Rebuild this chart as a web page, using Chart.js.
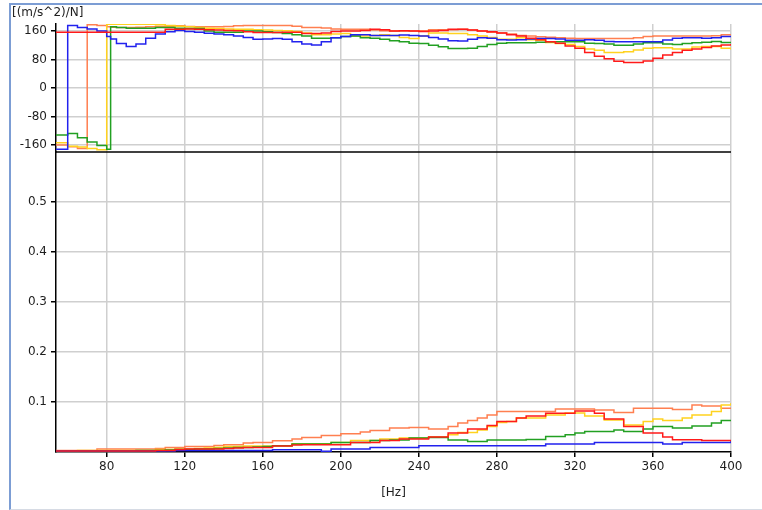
<!DOCTYPE html>
<html>
<head>
    <script src="https://cdn.jsdelivr.net/npm/chart.js@4.4.1/dist/chart.umd.min.js"></script>
    <style>
        body { margin: 0; background: #fff; overflow: hidden; }
        #frame {
            position: absolute; left: 9px; top: 3px; width: 780px; height: 504px;
            border-left: 2px solid #7c9dd4; border-top: 2px solid #7c9dd4; border-bottom: 1px solid #d6dbe4;
        }
        #grafico { position: absolute; left: 0; top: 0; }
    </style>
</head>
<body>
    <div id="frame"></div>
    <canvas id="grafico" width="762" height="510"></canvas>

    <script>
        // frequency points [Hz]
        const freq = [54, 60, 65, 70, 75, 80, 82, 85, 90, 95,
            100, 105, 110, 115, 120, 125, 130, 135, 140, 145,
            150, 155, 160, 165, 170, 175, 180, 185, 190, 195,
            200, 205, 210, 215, 220, 225, 230, 235, 240, 245,
            250, 255, 260, 265, 270, 275, 280, 285, 290, 295,
            300, 305, 310, 315, 320, 325, 330, 335, 340, 345,
            350, 355, 360, 365, 370, 375, 380, 385, 390, 395,
            400];

        // phase [deg]
        const phaseBlue = [-172, 176, 170, 166, 160, 145, 138, 125, 117, 124,
            140, 152, 158, 162, 159, 157, 154, 152, 150, 146,
            142, 137, 138, 139, 137, 130, 124, 121, 130, 141,
            145, 150, 150, 148, 148, 148, 149, 148, 146, 142,
            138, 133, 132, 137, 141, 140, 136, 135, 136, 138,
            139, 139, 138, 134, 134, 136, 134, 131, 130, 130,
            130, 130, 130, 135, 140, 141, 141, 140, 141, 145,
            145];
        const phaseOrange = [-160, -165, -170, 178, 176, 172, 171, 170, 170, 171,
            172, 173, 174, 175, 173, 172, 172, 172, 173, 175,
            176, 176, 176, 176, 176, 174, 170, 170, 169, 166,
            165, 165, 165, 163, 161, 160, 160, 160, 161, 164,
            164, 164, 165, 163, 160, 157, 155, 152, 148, 146,
            144, 143, 141, 140, 139, 139, 139, 139, 139, 139,
            141, 145, 146, 146, 146, 146, 146, 146, 147, 150,
            150];
        const phaseRed = [157, 157, 157, 157, 157, 157, 157, 157, 157, 157,
            157, 157, 165, 165, 166, 165, 164, 163, 162, 161,
            158, 156, 156, 156, 157, 157, 153, 153, 155, 159,
            160, 160, 162, 165, 164, 160, 161, 160, 159, 160,
            162, 165, 165, 163, 160, 158, 155, 150, 146, 140,
            136, 130, 126, 118, 112, 100, 89, 82, 75, 72,
            72, 76, 84, 93, 100, 106, 110, 114, 118, 121,
            124];
        const phaseGreen = [-132, -128, -140, -152, -162, -172, 172, 170, 168, 168,
            168, 170, 170, 168, 167, 167, 160, 157, 157, 157,
            160, 160, 158, 156, 153, 150, 146, 140, 140, 141,
            145, 146, 141, 140, 137, 133, 130, 126, 125, 120,
            116, 111, 111, 112, 117, 122, 126, 127, 127, 127,
            129, 130, 130, 130, 130, 126, 125, 124, 120, 120,
            124, 127, 127, 124, 122, 125, 127, 129, 131, 128,
            127];
        const phaseYellow = [-154, -164, -166, -170, -174, 179, 179, 179, 179, 179,
            179, 178, 176, 174, 172, 170, 168, 167, 166, 165,
            165, 164, 163, 162, 161, 159, 155, 150, 150, 152,
            153, 146, 146, 148, 150, 148, 142, 139, 146, 155,
            155, 153, 153, 150, 146, 142, 137, 137, 141, 136,
            134, 128, 125, 122, 117, 110, 106, 100, 100, 102,
            107, 112, 113, 113, 110, 110, 115, 117, 117, 112,
            108];

        // magnitude [(m/s^2)/N]
        const magBlue = [0.002, 0.002, 0.002, 0.002, 0.002, 0.002, 0.002, 0.002, 0.002, 0.002,
            0.002, 0.002, 0.002, 0.003, 0.003, 0.003, 0.003, 0.003, 0.003, 0.003,
            0.003, 0.003, 0.003, 0.0046, 0.0046, 0.0046, 0.0046, 0.0046, 0.0013, 0.006,
            0.006, 0.006, 0.006, 0.009, 0.009, 0.009, 0.009, 0.009, 0.0125, 0.0125,
            0.0125, 0.0125, 0.0125, 0.0125, 0.0125, 0.0125, 0.0125, 0.0125, 0.0125, 0.0125,
            0.0125, 0.016, 0.016, 0.016, 0.016, 0.016, 0.019, 0.019, 0.019, 0.019,
            0.019, 0.019, 0.019, 0.016, 0.016, 0.019, 0.019, 0.019, 0.019, 0.019,
            0.023];
        const magOrange = [0.003, 0.003, 0.003, 0.003, 0.006, 0.006, 0.006, 0.006, 0.006, 0.006,
            0.006, 0.007, 0.009, 0.009, 0.011, 0.011, 0.011, 0.013, 0.0145, 0.0145,
            0.018, 0.019, 0.019, 0.0225, 0.0225, 0.026, 0.029, 0.029, 0.033, 0.033,
            0.0365, 0.0365, 0.04, 0.043, 0.043, 0.048, 0.048, 0.049, 0.049, 0.046,
            0.046, 0.051, 0.058, 0.063, 0.068, 0.074, 0.081, 0.081, 0.081, 0.081,
            0.081, 0.081, 0.086, 0.086, 0.086, 0.086, 0.084, 0.084, 0.079, 0.079,
            0.0875, 0.0875, 0.0875, 0.0875, 0.085, 0.085, 0.094, 0.092, 0.092, 0.0875,
            0.0875];
        const magRed = [0.002, 0.002, 0.002, 0.002, 0.002, 0.002, 0.002, 0.002, 0.002, 0.002,
            0.002, 0.003, 0.003, 0.005, 0.006, 0.006, 0.006, 0.006, 0.007, 0.008,
            0.009, 0.009, 0.009, 0.012, 0.012, 0.014, 0.0145, 0.0145, 0.0145, 0.0145,
            0.0145, 0.019, 0.019, 0.019, 0.023, 0.023, 0.026, 0.026, 0.026, 0.03,
            0.03, 0.038, 0.038, 0.046, 0.046, 0.053, 0.061, 0.061, 0.068, 0.072,
            0.072, 0.0775, 0.0775, 0.0775, 0.082, 0.082, 0.0775, 0.066, 0.066, 0.051,
            0.051, 0.038, 0.038, 0.03, 0.0245, 0.0245, 0.0245, 0.023, 0.023, 0.023,
            0.023];
        const magGreen = [0.002, 0.002, 0.002, 0.002, 0.002, 0.002, 0.002, 0.002, 0.002, 0.003,
            0.003, 0.003, 0.004, 0.005, 0.005, 0.006, 0.006, 0.007, 0.008, 0.009,
            0.009, 0.01, 0.011, 0.0125, 0.0125, 0.016, 0.016, 0.016, 0.016, 0.019,
            0.019, 0.019, 0.019, 0.023, 0.023, 0.024, 0.024, 0.028, 0.028, 0.029,
            0.029, 0.024, 0.024, 0.021, 0.021, 0.024, 0.024, 0.024, 0.024, 0.025,
            0.025, 0.031, 0.031, 0.0345, 0.038, 0.041, 0.041, 0.041, 0.044, 0.041,
            0.041, 0.046, 0.051, 0.051, 0.048, 0.048, 0.052, 0.052, 0.058, 0.063,
            0.063];
        const magYellow = [0.002, 0.002, 0.003, 0.003, 0.003, 0.003, 0.003, 0.003, 0.003, 0.003,
            0.003, 0.005, 0.005, 0.006, 0.006, 0.007, 0.008, 0.009, 0.011, 0.011,
            0.012, 0.012, 0.012, 0.0125, 0.0125, 0.0165, 0.0165, 0.0165, 0.0165, 0.019,
            0.019, 0.023, 0.023, 0.023, 0.026, 0.026, 0.028, 0.028, 0.028, 0.03,
            0.03, 0.0345, 0.039, 0.039, 0.044, 0.051, 0.059, 0.061, 0.068, 0.068,
            0.068, 0.074, 0.074, 0.078, 0.078, 0.072, 0.072, 0.064, 0.064, 0.054,
            0.054, 0.061, 0.066, 0.063, 0.063, 0.068, 0.074, 0.074, 0.081, 0.094,
            0.098];

        const hzTicks = [80, 120, 160, 200, 240, 280, 320, 360, 400];
        const phaseTicks = [-160, -80, 0, 80, 160];
        const magTicks = [0.1, 0.2, 0.3, 0.4, 0.5];
        const unitLabel = '[(m/s^2)/N]';
        const xLabel = '[Hz]';

        const testo = '#1e1e1e';
        const griglia = '#cfcfcf';
        const font = {family: 'DejaVu Sans', size: 12};

        // red on top, orange at the bottom
        const serie = [
            {colore: '#ff1a1a', fase: phaseRed, modulo: magRed},
            {colore: '#2222ee', fase: phaseBlue, modulo: magBlue},
            {colore: '#22a022', fase: phaseGreen, modulo: magGreen},
            {colore: '#ffd21f', fase: phaseYellow, modulo: magYellow},
            {colore: '#ff7f50', fase: phaseOrange, modulo: magOrange}
        ];

        function punti(valori) {
            return freq.map((f, i) => ({x: f, y: valori[i]}));
        }

        let datasets = [];
        serie.forEach(s => {
            datasets.push({data: punti(s.fase), yAxisID: 'yp', borderColor: s.colore});
            datasets.push({data: punti(s.modulo), yAxisID: 'ym', borderColor: s.colore});
        });
        datasets.forEach(d => {
            d.borderWidth = 1.5;
            d.pointRadius = 0;
            d.stepped = 'before';
            d.fill = false;
        });

        function fissaTicks(lista) {
            return scale => { scale.ticks = lista.map(v => ({value: v})); };
        }

        const extra = {
            id: 'extra',
            beforeDatasetsDraw(chart) {
                const {ctx, chartArea, scales} = chart;
                ctx.save();
                ctx.strokeStyle = '#000';
                ctx.lineWidth = 1.5;
                ctx.beginPath();
                ctx.moveTo(chartArea.left, scales.ym.top);
                ctx.lineTo(chartArea.right, scales.ym.top);
                ctx.stroke();
                ctx.restore();
            },
            afterDraw(chart) {
                const {ctx, scales} = chart;
                ctx.save();
                ctx.font = '12px "DejaVu Sans"';
                ctx.fillStyle = testo;
                ctx.textBaseline = 'middle';
                ctx.fillText(unitLabel, scales.yp.left + 2, scales.yp.top - 11);
                ctx.restore();
            }
        };

        const assey = {
            type: 'linear',
            position: 'left',
            stack: 'pannelli',
            grid: {color: griglia, lineWidth: 1.5, tickLength: 5, tickColor: '#000'},
            border: {color: '#000', width: 1.5},
            ticks: {font: font, color: testo, padding: 4},
            afterFit: scale => { scale.width = 46; }
        };

        let ctx = document.getElementById('grafico').getContext('2d');
        let grafico = new Chart(ctx, {
            type: 'line',
            data: {datasets: datasets},
            plugins: [extra],
            options: {
                responsive: false,
                animation: false,
                layout: {padding: {left: 10, right: 31, top: 24, bottom: 6}},
                plugins: {legend: {display: false}, tooltip: {enabled: false}},
                scales: {
                    x: {
                        type: 'linear',
                        min: 54,
                        max: 400,
                        afterBuildTicks: fissaTicks(hzTicks),
                        grid: {color: griglia, lineWidth: 1.5, tickLength: 5, tickColor: '#000'},
                        border: {color: '#000', width: 1.5},
                        ticks: {font: font, color: testo, padding: 3, maxRotation: 0},
                        title: {display: true, text: xLabel, font: font, color: testo, padding: {top: 4, bottom: 4}},
                        afterFit: scale => { scale.height = 52; }
                    },
                    ym: Object.assign({}, assey, {
                        min: 0, max: 0.6, stackWeight: 300,
                        afterBuildTicks: fissaTicks(magTicks)
                    }),
                    yp: Object.assign({}, assey, {
                        min: -180, max: 180, stackWeight: 128,
                        afterBuildTicks: fissaTicks(phaseTicks)
                    })
                }
            }
        });
    </script>
</body>
</html>
